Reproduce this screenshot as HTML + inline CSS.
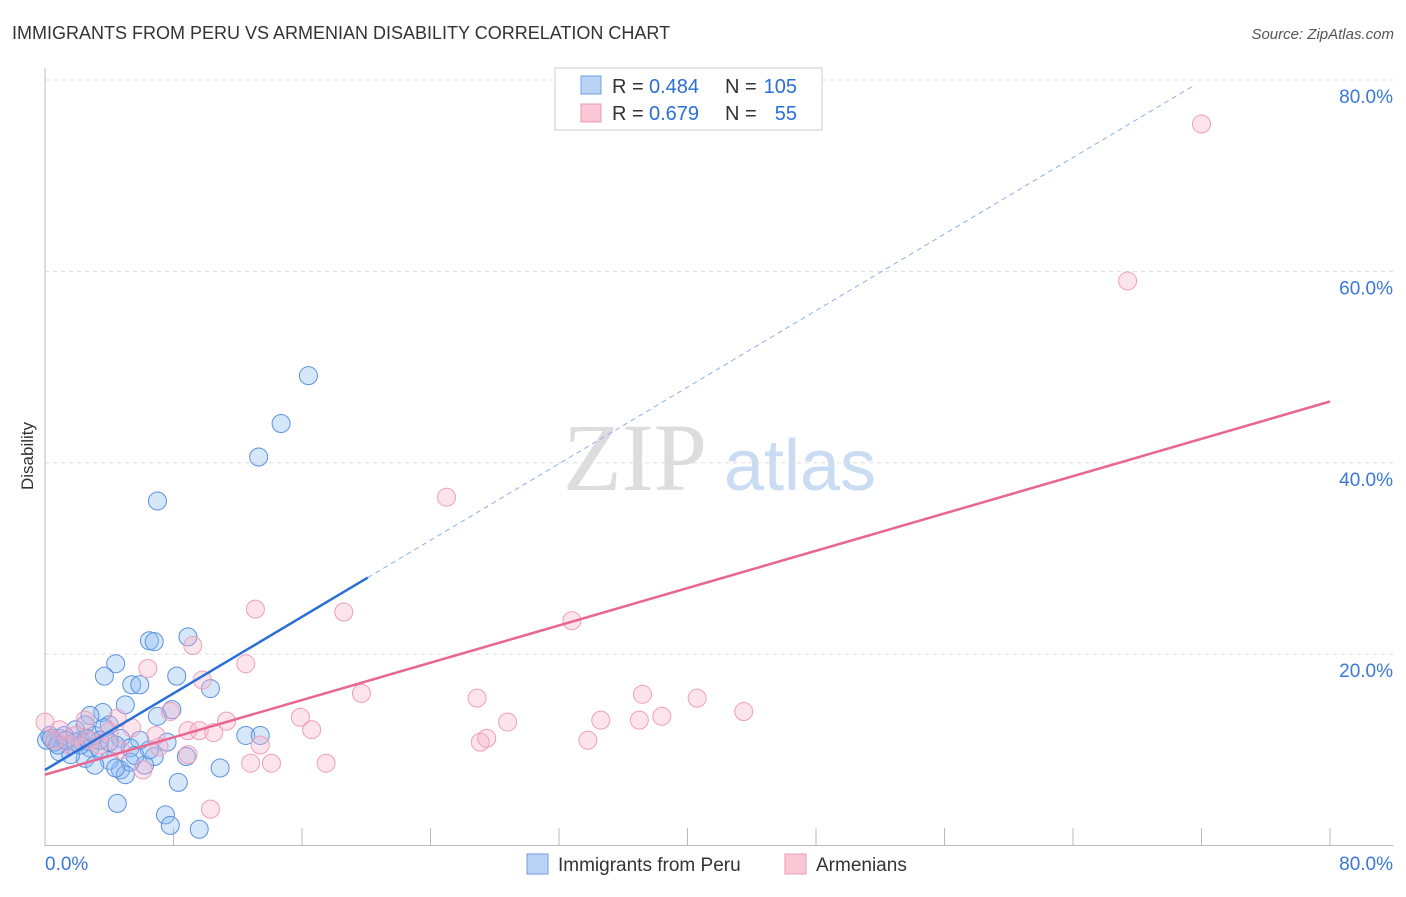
<!DOCTYPE html>
<html><head><meta charset="utf-8"><style>
body{margin:0;background:#fff;font-family:"Liberation Sans",sans-serif}
</style></head><body>
<svg width="1406" height="892" xmlns="http://www.w3.org/2000/svg" font-family="Liberation Sans, sans-serif">
<text x="12" y="39" font-size="18" fill="#333">IMMIGRANTS FROM PERU VS ARMENIAN DISABILITY CORRELATION CHART</text>
<text x="1394" y="39" font-size="15" fill="#555" font-style="italic" text-anchor="end">Source: ZipAtlas.com</text>
<text x="33" y="456" font-size="17" fill="#333" text-anchor="middle" transform="rotate(-90 33 456)">Disability</text>
<g><text x="635" y="490" font-size="96" fill="#ddd" text-anchor="middle" font-family="Liberation Serif, serif">ZIP</text><text x="800" y="490" font-size="72" fill="#c9dcf2" text-anchor="middle">atlas</text></g>
<g id="grid"></g><g id="axes"></g><g id="marks"></g>
<g>
<rect x="555" y="68" width="267" height="62" fill="#fff" stroke="#ccc"/>
<rect x="581" y="76" width="20" height="18" fill="#b8d3f5" stroke="#6fa0e0"/>
<rect x="581" y="104" width="20" height="18" fill="#f9c7d6" stroke="#ec9ab3"/>
<text x="612" y="93" font-size="20" fill="#333">R =</text>
<text x="649" y="93" font-size="20" fill="#2a6fd6">0.484</text>
<text x="725" y="93" font-size="20" fill="#333">N =</text>
<text x="797" y="93" font-size="20" fill="#2a6fd6" text-anchor="end">105</text>
<text x="612" y="120" font-size="20" fill="#333">R =</text>
<text x="649" y="120" font-size="20" fill="#2a6fd6">0.679</text>
<text x="725" y="120" font-size="20" fill="#333">N =</text>
<text x="797" y="120" font-size="20" fill="#2a6fd6" text-anchor="end">55</text>
</g>
<g>
<rect x="527" y="854" width="21" height="20" fill="#b8d3f5" stroke="#6fa0e0"/>
<text x="558" y="871" font-size="19" fill="#333">Immigrants from Peru</text>
<rect x="785" y="854" width="21" height="20" fill="#f9c7d6" stroke="#ec9ab3"/>
<text x="816" y="871" font-size="19" fill="#333">Armenians</text>
</g>
</svg>
<script>
const blueX=[16.4,14.7,13.3,7.0,6.5,6.8,8.9,4.4,3.7,8.2,5.4,5.9,10.3,5.0,7.0,7.9,3.6,2.8,4.0,12.5,13.4,7.6,5.9,4.7,2.2,0.9,0.3,1.6,2.8,3.4,5.3,6.8,8.8,10.9,8.3,4.5,7.5,7.8,9.6,6.2,4.7,5.3,4.0,2.5,0.9,1.9,3.1,3.7,1.2,0.6,6.5,5.6,4.4,3.4,2.5,1.6,3.1,5.0,4.4,2.2,4.0,0.1,0.4,0.8,1.9,2.6,1.3];
const blueY=[49.1,44.1,40.6,36.0,21.4,21.3,21.8,19.0,17.7,17.7,16.8,16.8,16.4,14.7,13.5,14.2,13.9,13.6,12.6,11.5,11.5,10.8,11.0,11.2,11.0,11.2,11.5,10.5,10.2,10.0,10.2,9.3,9.3,8.1,6.6,4.4,3.2,2.1,1.7,8.4,7.9,8.7,8.9,9.1,9.8,12.1,11.5,12.3,11.5,10.8,10.0,9.4,10.5,11.0,12.6,9.5,8.4,7.4,8.1,10.5,10.8,11.0,11.2,10.5,10.8,11.2,11.0];
const pinkX=[72.0,67.4,25.0,13.1,18.6,32.8,9.2,6.4,12.5,9.8,19.7,26.9,37.2,40.6,43.5,38.4,34.6,37.0,28.8,15.9,16.6,11.3,7.8,4.5,5.4,8.9,9.6,10.5,6.9,13.4,7.1,8.9,33.8,27.1,27.5,12.8,14.1,17.5,6.1,10.3,0,0.9,1.9,2.8,1.6,3.4,4.0,2.5,4.7,0.6];
const pinkY=[75.4,59.0,36.4,24.7,24.4,23.5,20.9,18.5,19.0,17.3,15.9,15.4,15.8,15.4,14.0,13.5,13.1,13.1,12.9,13.4,12.1,13.0,14.0,13.3,12.3,12.0,12.0,11.8,11.5,10.5,10.3,9.5,11.0,10.8,11.2,8.6,8.6,8.6,7.9,3.8,12.9,12.1,11.5,11.0,10.5,10.5,11.9,13.1,10.0,11.0];
const yTicks=[20,40,60,80];
const xTickVals=[0,8,16,24,32,40,48,56,64,72,80];
const blueFit=[7.9,1.0], blueSolidEnd=20.1, pinkFit=[7.4,0.4875];
const NS="http://www.w3.org/2000/svg";
const sx=v=>45+v*(1285/80), sy=v=>845.5-v*(765.5/80);
function mk(tag,attrs,parent){const e=document.createElementNS(NS,tag);for(const k in attrs)e.setAttribute(k,attrs[k]);document.getElementById(parent).appendChild(e);return e;}
yTicks.forEach(t=>{
 const l=mk('line',{x1:45,x2:1393,y1:sy(t),y2:sy(t),stroke:'#ddd','stroke-dasharray':'4,4'},'grid');
 
 
 const tx=mk('text',{x:1393,y:sy(t)+23,'font-size':19,fill:'#3a78d8','text-anchor':'end'},'grid');
 tx.textContent=t.toFixed(1)+'%';
 
 
});
mk('line',{x1:45,x2:45,y1:68,y2:846,stroke:'#bbb'},'axes');
mk('line',{x1:45,x2:1393,y1:845.5,y2:845.5,stroke:'#bbb'},'axes');
xTickVals.forEach(t=>{if(t>0){const l=mk('line',{x1:sx(t),x2:sx(t),y1:828,y2:845,stroke:'#bbb'},'axes');
 
 }});
[[0,'start',45],[80,'end',1393]].forEach(([v,a,x])=>{const t=mk('text',{x:x,y:870,'font-size':19,fill:'#3a78d8','text-anchor':a},'axes');t.textContent=v.toFixed(1)+'%';
 
 });
blueX.forEach((x,i)=>{const c=mk('circle',{cx:sx(x),cy:sy(blueY[i]),r:9,fill:'rgba(140,185,240,0.35)',stroke:'#5a92e0','stroke-width':1},'marks');
 
 });
pinkX.forEach((x,i)=>{const c=mk('circle',{cx:sx(x),cy:sy(pinkY[i]),r:9,fill:'rgba(248,175,200,0.35)',stroke:'#ef9fba','stroke-width':1},'marks');
 
 });
const bf=x=>blueFit[0]+blueFit[1]*x, pf=x=>pinkFit[0]+pinkFit[1]*x;
let l=mk('line',{x1:sx(blueSolidEnd),y1:sy(bf(blueSolidEnd)),x2:sx(71.6),y2:sy(bf(71.6)),stroke:'#8ab0e6','stroke-width':1,'stroke-dasharray':'5,4'},'marks');


l=mk('line',{x1:sx(0),y1:sy(bf(0)),x2:sx(blueSolidEnd),y2:sy(bf(blueSolidEnd)),stroke:'#2a6fd6','stroke-width':2.5},'marks');


l=mk('line',{x1:sx(0),y1:sy(pf(0)),x2:sx(80),y2:sy(pf(80)),stroke:'#e8668f','stroke-width':2.5},'marks');


</script>
</body></html>
